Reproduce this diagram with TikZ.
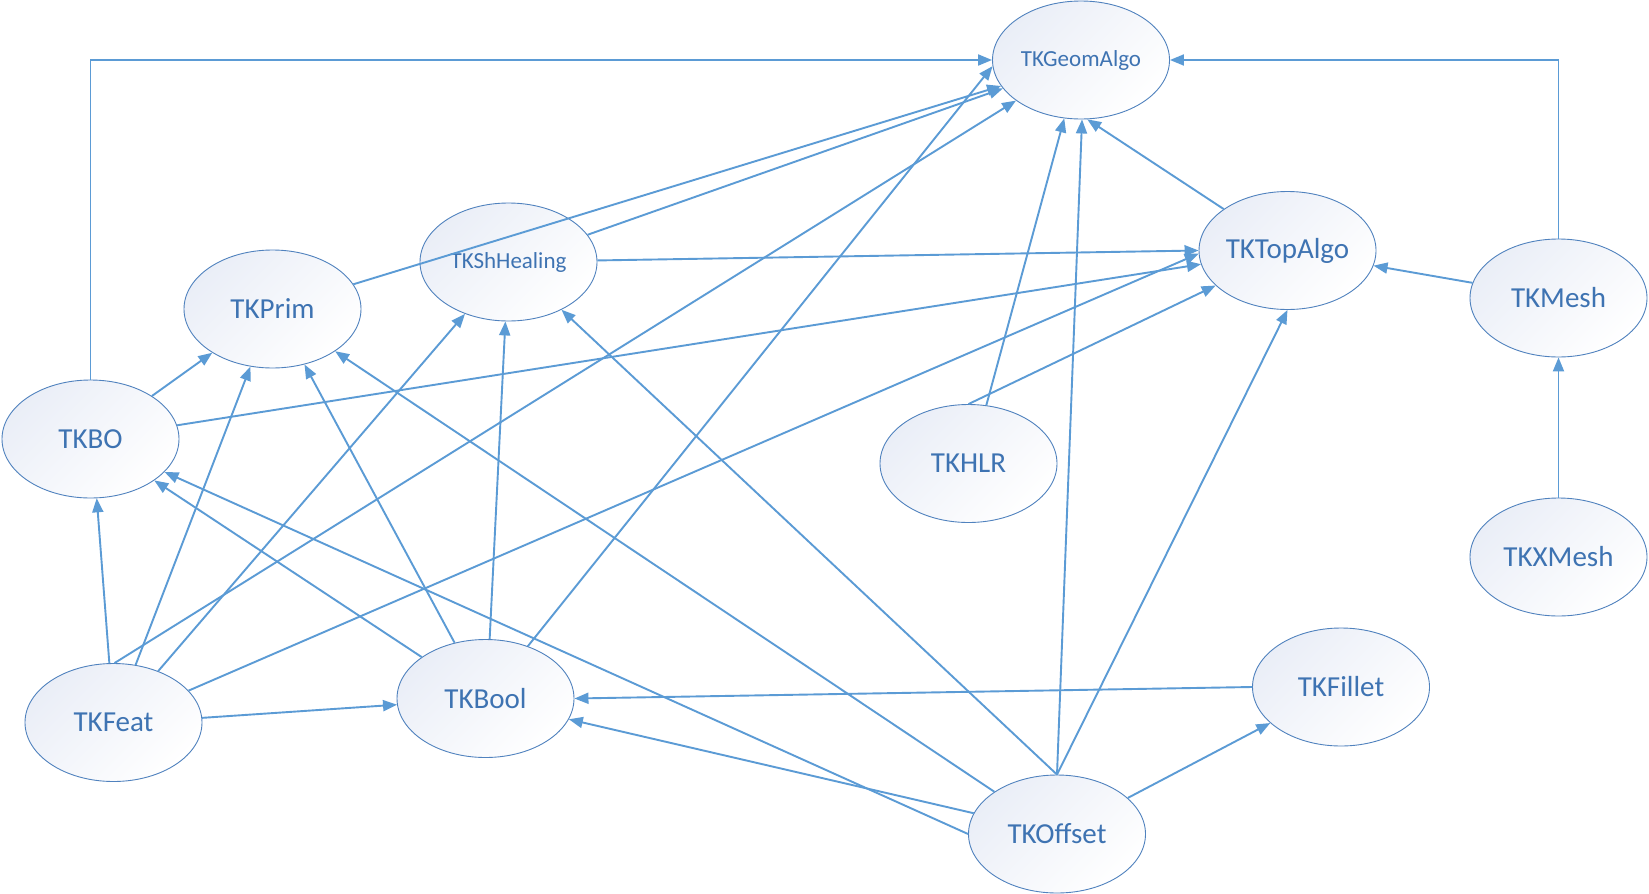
\documentclass[tikz,border=0pt]{standalone}
\usepackage{fontspec}
\setmainfont{Carlito}
\usetikzlibrary{shapes.geometric,arrows.meta}
\definecolor{lineblue}{RGB}{91,155,213}
\definecolor{edgeblue}{RGB}{80,130,190}
\definecolor{txtblue}{RGB}{62,115,178}
\definecolor{fillblue}{RGB}{234,238,247}
\begin{document}
\begin{tikzpicture}[x=1pt,y=-1pt,
  tk/.style={ellipse, draw=edgeblue, line width=0.9pt, minimum width=177pt, minimum height=118pt,
    inner sep=0pt, top color=fillblue, bottom color=white, shading angle=45,
    text=txtblue, font=\fontsize{29}{34}\selectfont},
  tks/.style={tk, font=\fontsize{23}{28}\selectfont},
  arr/.style={draw=lineblue, line width=1.9pt, -{Triangle[length=14pt,width=11pt]}}
]
\useasboundingbox (0,0) rectangle (1649,894);
\fill[white] (0,0) rectangle (1649,894);

\node[tks] (GA) at (1081,60) {TKGeomAlgo};
\node[tks] (SH) at (508.5,262) {TKShHealing};
\node[tk] (PR) at (272.5,309) {TKPrim};
\node[tk] (TA) at (1287.5,250.5) {TKTopAlgo};
\node[tk] (ME) at (1558.5,298) {TKMesh};
\node[tk] (BO) at (90.5,439) {TKBO};
\node[tk] (HL) at (968.5,463.5) {TKHLR};
\node[tk] (XM) at (1558.5,557) {TKXMesh};
\node[tk] (FE) at (113.5,722.5) {TKFeat};
\node[tk] (BL) at (485.5,698.5) {TKBool};
\node[tk] (FI) at (1341,687) {TKFillet};
\node[tk] (OF) at (1057,834) {TKOffset};

\draw[arr] (BO.north) |- (GA.west);
\draw[arr] (ME.north) |- (GA.east);
\draw[arr] (ME.170) -- (TA.-10);
\draw[arr] (XM.north) -- (ME.south);
\draw[arr] (TA.147) -- (GA.-84.5);
\draw[arr] (OF.north) -- (GA.-89.5);
\draw[arr] (OF.north) -- (TA.-90.5);
\draw[arr] (OF.north) -- (SH.-42);
\draw[arr] (OF.146) -- (PR.-34);
\draw[arr] (OF.166) -- (BL.-14);
\draw[arr] (OF.west) -- (BO.-24);
\draw[arr] (BL.147) -- (BO.-33);
\draw[arr] (BL.119) -- (PR.-60);
\draw[arr] (BL.86.5) -- (SH.-93);
\draw[arr] (BL.51) -- (GA.184.4);
\draw[arr] (FE.89) -- (GA.212);
\draw[arr] (FE.69.4) -- (PR.-111);
\draw[arr] (FE.49.3) -- (SH.-130);
\draw[arr] (FE.23.7) -- (TA.182);
\draw[arr] (FE.3.8) -- (BL.184.3);
\draw[arr] (FE.94.4) -- (BO.-84.6);
\draw[arr] (BO.35.8) -- (PR.-144);
\draw[arr] (BO.9.1) -- (TA.189.6);
\draw[arr] (PR.17.2) -- (GA.198.6);
\draw[arr] (SH.19.5) -- (GA.200.5);
\draw[arr] (SH.1.2) -- (TA.180);
\draw[arr] (HL.73.7) -- (GA.-106.6);
\draw[arr] (HL.north) -- (TA.206.9);
\draw[arr] (FI.west) -- (BL.east);
\draw[arr] (OF.27.4) -- (FI.207.7);
\end{tikzpicture}
\end{document}
